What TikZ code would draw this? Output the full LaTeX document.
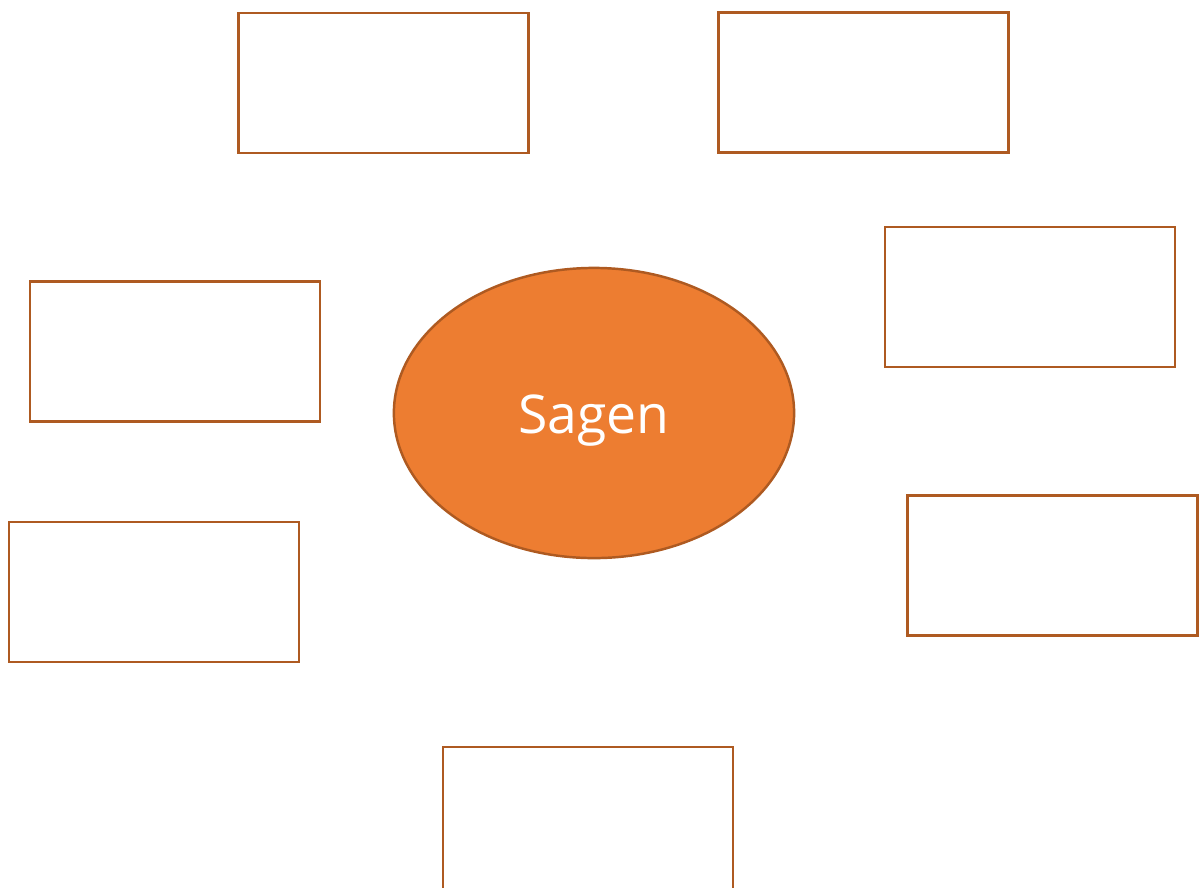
\documentclass[tikz,border=0pt]{standalone}
\usepackage{fontspec}
\setmainfont{Open Sans}
\usetikzlibrary{shapes.geometric}
\definecolor{accent}{HTML}{ED7D31}
\definecolor{edge}{HTML}{AE5A21}
\begin{document}
\begin{tikzpicture}[x=0.01cm,y=-0.01cm,
  emptybox/.style={draw=edge,line width=0.7pt,fill=white,rectangle,inner sep=0pt,minimum width=2.9cm,minimum height=1.4cm},
  hub/.style={draw=edge,line width=0.7pt,fill=accent,ellipse,inner sep=0pt,minimum width=4cm,minimum height=2.9cm,text=white,font=\fontsize{15.2}{18}\selectfont}]
\useasboundingbox (0,0) rectangle (1199,887);
\clip (0,0) rectangle (1199,887);
\node[emptybox] (b1) at (383.5,83) {};
\node[emptybox] (b2) at (863.5,82.5) {};
\node[emptybox] (b3) at (1030,297) {};
\node[emptybox] (b4) at (175,351.5) {};
\node[emptybox] (b5) at (154,592) {};
\node[emptybox] (b6) at (1052.5,565.5) {};
\node[emptybox,minimum height=1.46cm] (b7) at (588,820) {};
\node[hub] (sagen) at (594,413) {\raisebox{-0.08cm}[\height][\depth]{Sagen}};
\end{tikzpicture}
\end{document}
